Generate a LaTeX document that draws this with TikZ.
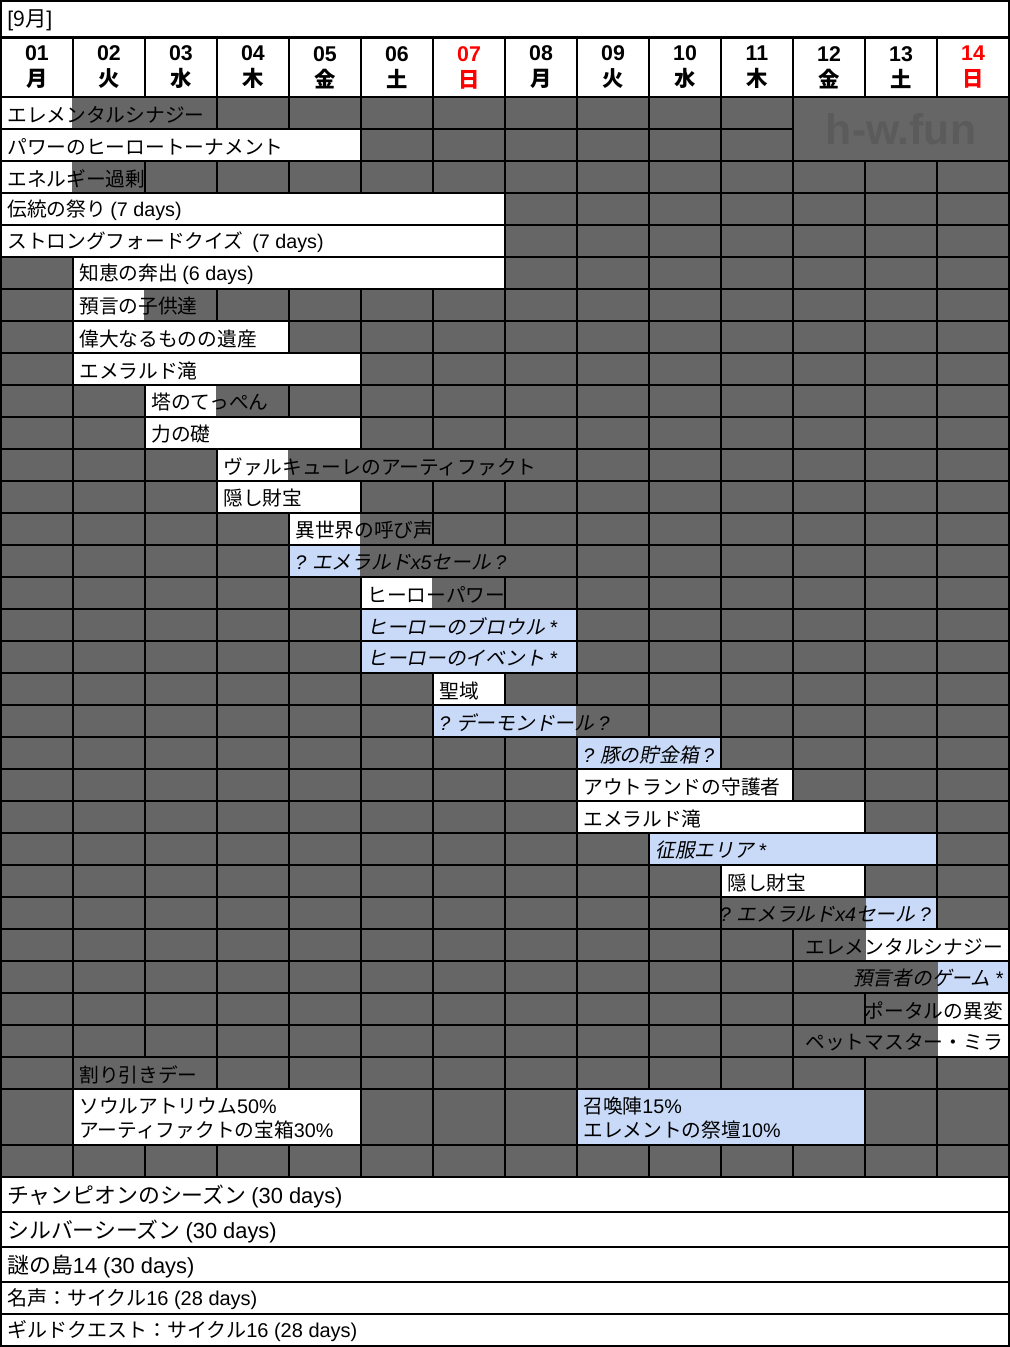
\documentclass[tikz,border=0pt]{standalone}
\usepackage{fontspec}
\setmainfont{Noto Sans CJK JP}
\newfontfamily\lat{Liberation Sans}
\newfontfamily\cjkit[FakeSlant=0.2]{Noto Sans CJK JP}
\usetikzlibrary{positioning}
\definecolor{cellgray}{HTML}{666666}
\definecolor{evblue}{HTML}{C9DAF8}
\definecolor{markgray}{HTML}{5B5B5B}
\definecolor{sunred}{HTML}{FF0000}
\newcommand\la[1]{{\lat #1}}
\newcommand\lai[1]{{\lat\itshape #1}}
\tikzset{
  gridline/.style={draw=black, line width=1.5pt},
  evtext/.style={font=\fontsize{14.8}{18}\selectfont, inner xsep=4.5pt, inner ysep=0pt},
  evit/.style={evtext, font=\fontsize{14.8}{18}\selectfont\cjkit},
  daybox/.style={gridline, fill=white, minimum width=54pt, minimum height=45pt, align=center,
    font=\fontsize{16}{19.5}\selectfont\bfseries},
  bottomtext/.style={evtext, anchor=west}
}
\newcommand\ev[9][evtext]{%
  \fill[cellgray] ({72*(#6-1)+2},{97+32*(#2-1)+1}) rectangle ({72*#7},{97+32*#2-1});
  \fill[#5] ({72*(#3-1)+2},{97+32*(#2-1)+1}) rectangle ({72*#4},{97+32*#2-1});
  \node[#1, anchor=west] (#8) at ({72*(#3-1)+1},{97+32*#2-14.5}) {#9};
}
\newcommand\evr[9][evtext]{%
  \fill[cellgray] ({72*(#6-1)+2},{97+32*(#2-1)+1}) rectangle ({72*#7},{97+32*#2-1});
  \fill[#5] ({72*(#3-1)+2},{97+32*(#2-1)+1}) rectangle ({72*#4},{97+32*#2-1});
  \node[#1, anchor=east] (#8) at ({72*#4+1},{97+32*#2-14.5}) {#9};
}
\begin{document}
\begin{tikzpicture}[x=0.75pt, y=-0.75pt]
      \useasboundingbox (0,0) rectangle (1010,1347);
      \fill[white] (0,0) rectangle (1010,1347);
      \draw[gridline, fill=white] (1,1) rectangle (1009,37);
      \node[evtext, anchor=west, font=\fontsize{16}{18}\selectfont] (month) at (1,20.5) {\la{[}9月\la{]}};
      \begin{scope}[every node/.style={daybox}]
        \foreach \d/\w/\c [count=\i] in {01/月/black,02/火/black,03/水/black,04/木/black,
            05/金/black,06/土/black,07/日/sunred,08/月/black,09/火/black,10/水/black,
            11/木/black,12/金/black,13/土/black,14/日/sunred}
          \node[text=\c] (d\i) at ({37+72*(\i-1)},67.5) {{\lat\bfseries \d}\\\w};
      \end{scope}
      \fill[cellgray] (1,97) rectangle (1009,1177);
      \foreach \r in {0,...,31}
        \draw[gridline] (1,{97+32*\r}) -- (1009,{97+32*\r});
      \draw[gridline] (1,1145) -- (1009,1145);
      \draw[gridline] (1,1177) -- (1009,1177);
      \foreach \c in {0,...,14}
        \draw[gridline] ({1+72*\c},97) -- ({1+72*\c},1177);
      \fill[cellgray] (794,98) rectangle (1008,160);
      \node[font=\fontsize{32}{36}\lat\bfseries, text=markgray] (mark) at (901,129) {h-w.fun};
      \ev{1}{1}{1}{white}{1}{3}{e1}{エレメンタルシナジー}
      \ev{2}{1}{5}{white}{1}{5}{e2}{パワーのヒーロートーナメント}
      \ev{3}{1}{1}{white}{1}{2}{e3}{エネルギー過剰}
      \ev{4}{1}{7}{white}{1}{7}{e4}{伝統の祭り \la{(7 days)}}
      \ev{5}{1}{7}{white}{1}{7}{e5}{ストロングフォードクイズ\ \ \la{(7 days)}}
      \ev{6}{2}{7}{white}{2}{7}{e6}{知恵の奔出 \la{(6 days)}}
      \ev{7}{2}{2}{white}{2}{3}{e7}{預言の子供達}
      \ev{8}{2}{4}{white}{2}{4}{e8}{偉大なるものの遺産}
      \ev{9}{2}{5}{white}{2}{5}{e9}{エメラルド滝}
      \ev{10}{3}{3}{white}{3}{4}{e10}{塔のてっぺん}
      \ev{11}{3}{5}{white}{3}{5}{e11}{力の礎}
      \ev{12}{4}{4}{white}{4}{8}{e12}{ヴァルキューレのアーティファクト}
      \ev{13}{4}{5}{white}{4}{5}{e13}{隠し財宝}
      \ev{14}{5}{5}{white}{5}{6}{e14}{異世界の呼び声}
      \ev[evit]{15}{5}{5}{evblue}{5}{8}{e15}{\lai{?} エメラルド\lai{x5}セール \lai{?}}
      \ev{16}{6}{6}{white}{6}{7}{e16}{ヒーローパワー}
      \ev[evit]{17}{6}{8}{evblue}{6}{8}{e17}{ヒーローのブロウル \lai{*}}
      \ev[evit]{18}{6}{8}{evblue}{6}{8}{e18}{ヒーローのイベント \lai{*}}
      \ev{19}{7}{7}{white}{7}{7}{e19}{聖域}
      \ev[evit]{20}{7}{8}{evblue}{7}{9}{e20}{\lai{?} デーモンドール \lai{?}}
      \ev[evit]{21}{9}{10}{evblue}{9}{10}{e21}{\lai{?} 豚の貯金箱 \lai{?}}
      \ev{22}{9}{11}{white}{9}{11}{e22}{アウトランドの守護者}
      \ev{23}{9}{12}{white}{9}{12}{e23}{エメラルド滝}
      \ev[evit]{24}{10}{13}{evblue}{10}{13}{e24}{征服エリア \lai{*}}
      \ev{25}{11}{12}{white}{11}{12}{e25}{隠し財宝}
      \evr[evit]{26}{13}{13}{evblue}{11}{13}{e26}{\lai{?} エメラルド\lai{x4}セール \lai{?}}
      \evr{27}{13}{14}{white}{12}{14}{e27}{エレメンタルシナジー}
      \evr[evit]{28}{14}{14}{evblue}{12}{14}{e28}{預言者のゲーム \lai{*}}
      \evr{29}{14}{14}{white}{13}{14}{e29}{ポータルの異変}
      \evr{30}{14}{14}{white}{12}{14}{e30}{ペットマスター・ミラ}
      \ev{31}{2}{2}{cellgray}{2}{3}{e31}{割り引きデー}
      \fill[white] (74,1090) rectangle (360,1144);
      \fill[evblue] (578,1090) rectangle (864,1144);
      \node[evtext, anchor=west, align=left] (sale1) at (73,1118.5) {ソウルアトリウム\la{50\%}\\アーティファクトの宝箱\la{30\%}};
      \node[evtext, anchor=west, align=left] (sale2) at (577,1118.5) {召喚陣\la{15\%}\\エレメントの祭壇\la{10\%}};
      \begin{scope}[every node/.style={bottomtext}]
        \draw[gridline, fill=white] (1,1177) rectangle (1009,1212);
        \node[font=\fontsize{16.4}{18}\selectfont] (s1) at (1,1196.5) {チャンピオンのシーズン \la{(30 days)}};
        \draw[gridline, fill=white] (1,1212) rectangle (1009,1247);
        \node[font=\fontsize{16.4}{18}\selectfont] (s2) at (1,1231.5) {シルバーシーズン \la{(30 days)}};
        \draw[gridline, fill=white] (1,1247) rectangle (1009,1282);
        \node[font=\fontsize{16.4}{18}\selectfont] (s3) at (1,1266.5) {謎の島\la{14 (30 days)}};
        \draw[gridline, fill=white] (1,1282) rectangle (1009,1314);
        \node[font=\fontsize{15}{18}\selectfont] (s4) at (1,1299.5) {名声：サイクル\la{16 (28 days)}};
        \draw[gridline, fill=white] (1,1314) rectangle (1009,1346);
        \node[font=\fontsize{15}{18}\selectfont] (s5) at (1,1331.5) {ギルドクエスト：サイクル\la{16 (28 days)}};
      \end{scope}
    \end{tikzpicture}
\end{document}
